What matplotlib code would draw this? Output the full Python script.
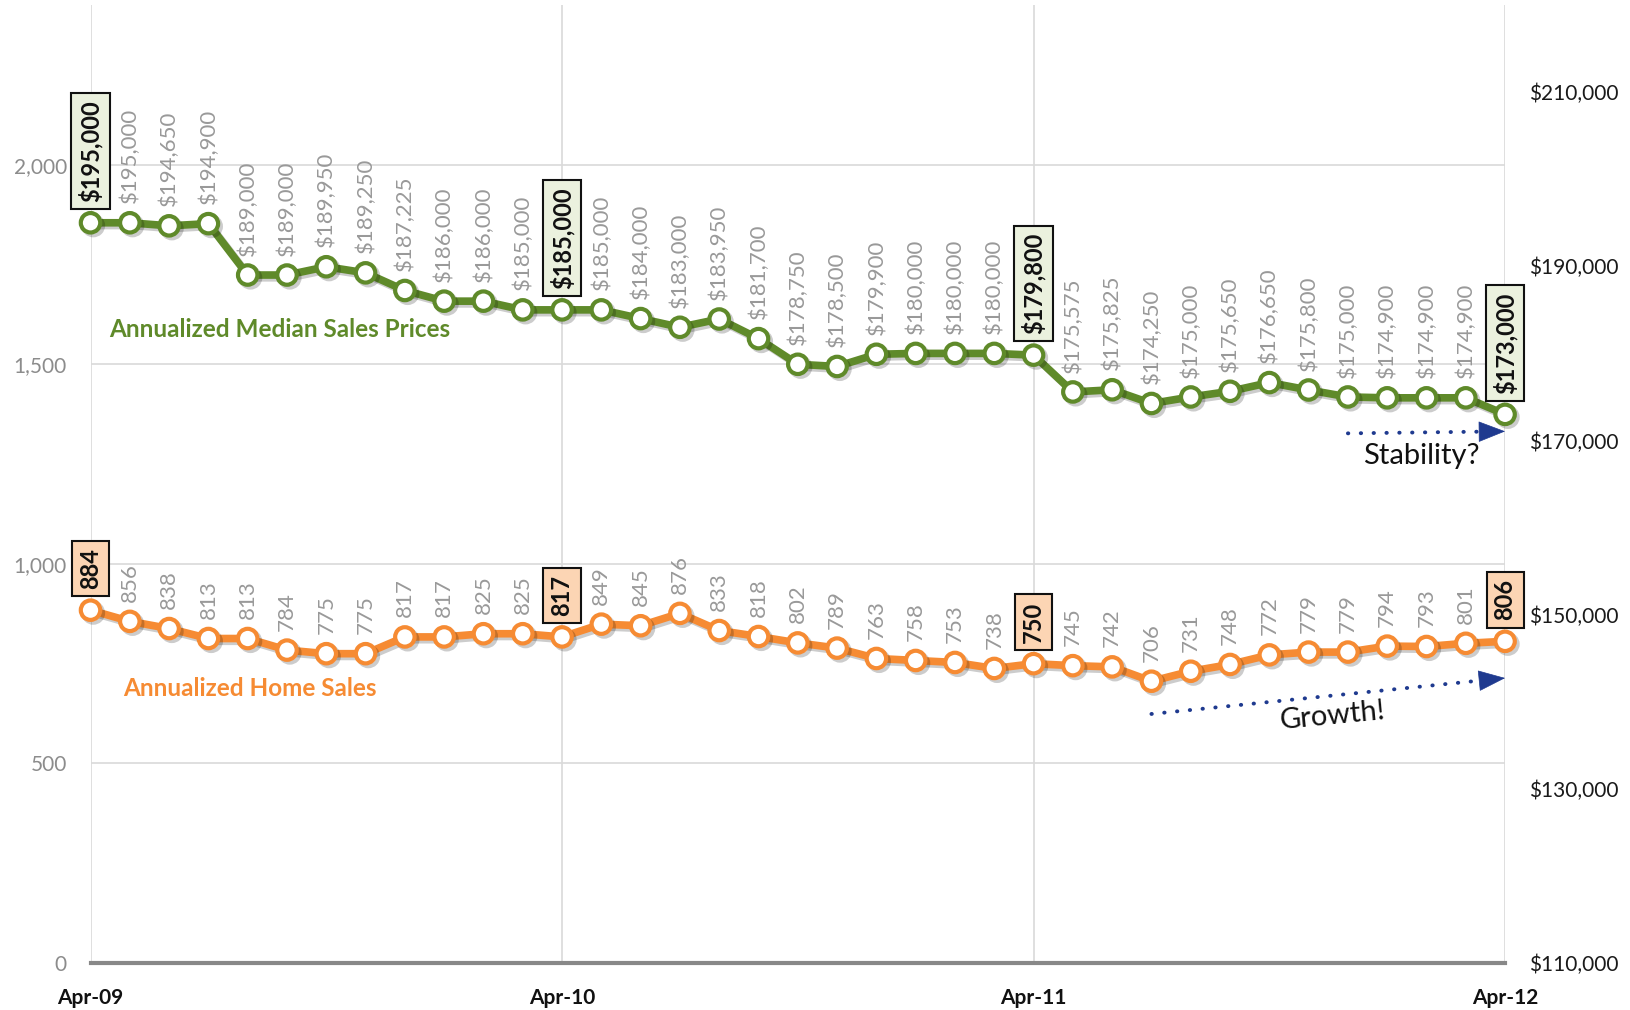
import matplotlib
matplotlib.use('Agg')
import matplotlib.pyplot as plt
import matplotlib.patheffects as pe
import numpy as np

plt.rcParams['font.family'] = ['Lato', 'DejaVu Sans']

# monthly data, Apr-09 .. Apr-12
prices = [195000, 195000, 194650, 194900, 189000, 189000, 189950, 189250, 187225,
          186000, 186000, 185000, 185000, 185000, 184000, 183000, 183950, 181700,
          178750, 178500, 179900, 180000, 180000, 180000, 179800, 175575, 175825,
          174250, 175000, 175650, 176650, 175800, 175000, 174900, 174900, 174900,
          173000]
sales = [884, 856, 838, 813, 813, 784, 775, 775, 817, 817, 825, 825, 817,
         849, 845, 876, 833, 818, 802, 789, 763, 758, 753, 738, 750,
         745, 742, 706, 731, 748, 772, 779, 779, 794, 793, 801, 806]
tick_pos = [0, 12, 24, 36]
tick_labels = ['Apr-09', 'Apr-10', 'Apr-11', 'Apr-12']
highlight = [0, 12, 24, 36]

green = '#5f8a2a'
orange = '#f68b33'
navy = '#1f3a8f'

x = np.arange(len(prices))

fig = plt.figure(figsize=(16.31, 10.10), dpi=100)
ax = fig.add_axes([0.0555, 0.0465, 0.8673, 0.9485])
ax2 = ax.twinx()

shadow = [pe.SimpleLineShadow(offset=(2, -2), shadow_color='k', alpha=0.2), pe.Normal()]

ax.plot(x, sales, color=orange, lw=5.5, marker='o', ms=14, mfc='white', mec=orange,
        mew=3, path_effects=shadow, zorder=3, clip_on=False)
ax2.plot(x, prices, color=green, lw=5.5, marker='o', ms=14, mfc='white', mec=green,
         mew=3, path_effects=shadow, zorder=3, clip_on=False)

# data labels
for i, v in enumerate(sales):
    if i in highlight:
        ax.annotate(f'{v:,}', (i, v), xytext=(0, 15), textcoords='offset points',
                    rotation=90, ha='center', va='bottom', fontsize=17, fontweight='bold',
                    color='#111111',
                    bbox=dict(boxstyle='square,pad=0.3', fc='#fcd5b4', ec='#111111', lw=1.5))
    else:
        ax.annotate(f'{v:,}', (i, v), xytext=(0, 14), textcoords='offset points',
                    rotation=90, ha='center', va='bottom', fontsize=16, color='#999999')

for i, v in enumerate(prices):
    if i in highlight:
        ax2.annotate(f'${v:,}', (i, v), xytext=(0, 15), textcoords='offset points',
                     rotation=90, ha='center', va='bottom', fontsize=17, fontweight='bold',
                     color='#111111',
                     bbox=dict(boxstyle='square,pad=0.3', fc='#ebf1de', ec='#111111', lw=1.5))
    else:
        ax2.annotate(f'${v:,}', (i, v), xytext=(0, 14), textcoords='offset points',
                     rotation=90, ha='center', va='bottom', fontsize=16, color='#999999')

# axes
ax.set_xlim(0, 36)
ax.set_ylim(0, 2400)
ax2.set_ylim(110000, 220000)
ax.set_yticks([0, 500, 1000, 1500, 2000])
ax.set_yticklabels(['0', '500', '1,000', '1,500', '2,000'])
ax2.set_yticks([110000, 130000, 150000, 170000, 190000, 210000])
ax2.set_yticklabels([f'${t:,}' for t in ax2.get_yticks()])
ax.set_xticks(tick_pos)
ax.set_xticklabels(tick_labels, fontweight='bold')

ax.tick_params(axis='y', length=0, pad=17, labelsize=15, labelcolor='#8c8c8c')
ax2.tick_params(axis='y', length=0, pad=17, labelsize=15, labelcolor='#1a1a1a')
ax.tick_params(axis='x', length=0, pad=18, labelsize=15, labelcolor='#111111')

ax.grid(True, color='#d9d9d9', lw=1.2)
ax.set_axisbelow(True)
for a in (ax, ax2):
    for s in ['top', 'left', 'right', 'bottom']:
        a.spines[s].set_visible(False)
ax.spines['bottom'].set_visible(True)
ax.spines['bottom'].set_color('#888888')
ax.spines['bottom'].set_linewidth(3)

# series titles
ax.text(0.47, 1586, 'Annualized Median Sales Prices', color=green, fontsize=17.5,
        fontweight='bold', va='center', ha='left')
ax.text(0.82, 689, 'Annualized Home Sales', color=orange, fontsize=17.5,
        fontweight='bold', va='center', ha='left')


# trend arrows: dotted shaft plus a solid head
def trend_arrow(x0, y0, x1, y1):
    xe = x1 - 0.5
    ax.plot([x0, xe], [y0, y0 + (y1 - y0) * (xe - x0) / (x1 - x0)],
            color=navy, lw=2.8, ls=(0, (0.1, 3.2)), dash_capstyle='round', zorder=4)
    xs = x1 - 0.6
    ax.annotate('', xy=(x1, y1), xytext=(xs, y0 + (y1 - y0) * (xs - x0) / (x1 - x0)),
                arrowprops=dict(arrowstyle='-|>,head_length=0.9,head_width=0.35',
                                color=navy, lw=0.5, shrinkA=0, shrinkB=0,
                                mutation_scale=20), zorder=4)


trend_arrow(32, 1327, 36, 1332)
ax.text(33.86, 1270, 'Stability?', fontsize=21, color='#111111', ha='center', va='center')

trend_arrow(27, 624, 36, 714)
ax.text(31.6, 620, 'Growth!', fontsize=21, color='#111111', ha='center', va='center',
        rotation=5.5)

fig.savefig('out.png', dpi=100)
